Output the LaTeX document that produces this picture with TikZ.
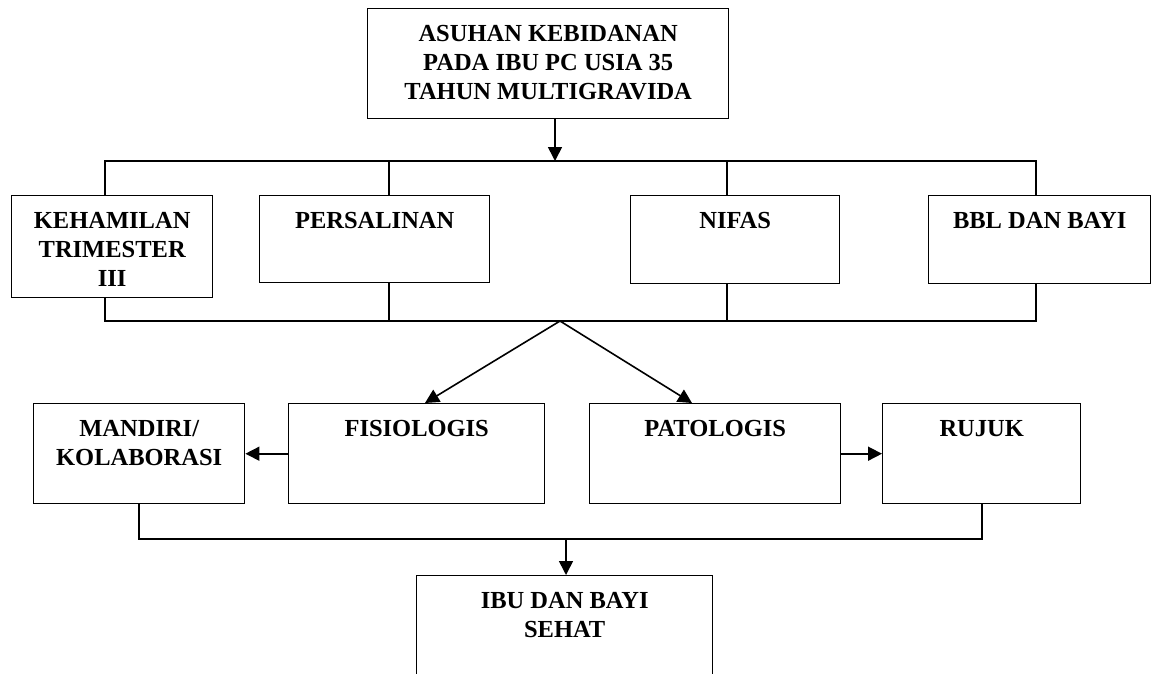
\documentclass[tikz,border=0pt]{standalone}
\usepackage{fontspec}
\setmainfont{Liberation Serif}
\usetikzlibrary{arrows.meta}
\begin{document}
\begin{tikzpicture}[x=1pt,y=-1pt,
  box/.style={draw, line width=1.4pt, anchor=north west, inner sep=0pt},
  lbl/.style={anchor=north, inner sep=0pt, align=center, yshift=-17.5pt,
    font=\fontsize{24.5}{29}\selectfont\bfseries},
  conn/.style={line width=1.6pt},
  arr/.style={conn, -{Triangle[length=14pt,width=14pt]}}]
\path[use as bounding box] (0,0) rectangle (1155,673);
\clip (0,0) rectangle (1155,673);
% boxes
\node[box, minimum width=361pt, minimum height=110pt] (top) at (367,8) {};
\node[box, minimum width=201pt, minimum height=102pt] (keh) at (11,195) {};
\node[box, minimum width=230pt, minimum height=87pt] (per) at (259,195) {};
\node[box, minimum width=209pt, minimum height=88pt] (nif) at (630,195) {};
\node[box, minimum width=222pt, minimum height=88pt] (bbl) at (928,195) {};
\node[box, minimum width=211pt, minimum height=100pt] (man) at (33,403) {};
\node[box, minimum width=256pt, minimum height=100pt] (fis) at (288,403) {};
\node[box, minimum width=251pt, minimum height=100pt] (pat) at (589,403) {};
\node[box, minimum width=198pt, minimum height=100pt] (ruj) at (882,403) {};
\node[box, minimum width=296pt, minimum height=130pt] (ibu) at (416,575) {};
% labels
\node[lbl] (ttop) at (top.north) {ASUHAN KEBIDANAN\\PADA IBU PC USIA 35\\TAHUN MULTIGRAVIDA};
\node[lbl] (tkeh) at (keh.north) {KEHAMILAN\\TRIMESTER\\III};
\node[lbl] (tper) at (per.north) {PERSALINAN};
\node[lbl] (tnif) at (nif.north) {NIFAS};
\node[lbl] (tbbl) at (bbl.north) {BBL DAN BAYI};
\node[lbl] (tman) at (man.north) {MANDIRI/\\KOLABORASI};
\node[lbl] (tfis) at (fis.north) {FISIOLOGIS};
\node[lbl] (tpat) at (pat.north) {PATOLOGIS};
\node[lbl] (truj) at (ruj.north) {RUJUK};
\node[lbl] (tibu) at (ibu.north) {IBU DAN BAYI\\SEHAT};
% coordinates
\coordinate (tb) at (555,161);
\coordinate (x1) at (105,0);
\coordinate (x2) at (389,0);
\coordinate (x3) at (727,0);
\coordinate (x4) at (1036,0);
\coordinate (bb) at (560,321);
\coordinate (yb) at (0,321);
\coordinate (yt) at (0,161);
\coordinate (fistip) at (425,403);
\coordinate (pattip) at (692,403);
\coordinate (ml) at (139,539);
\coordinate (mr) at (982,539);
\coordinate (mm) at (566,539);
% connectors
\draw[arr] (top.south -| tb) -- (tb);
\draw[conn] (keh.north -| x1) -- (x1 |- yt) -- (x4 |- yt) -- (bbl.north -| x4);
\draw[conn] (x2 |- yt) -- (per.north -| x2);
\draw[conn] (x3 |- yt) -- (nif.north -| x3);
\draw[conn] (keh.south -| x1) -- (x1 |- yb) -- (x4 |- yb) -- (bbl.south -| x4);
\draw[conn] (per.south -| x2) -- (x2 |- yb);
\draw[conn] (nif.south -| x3) -- (x3 |- yb);
\draw[arr] (bb) -- (fistip);
\draw[arr] (bb) -- (pattip);
\draw[arr] (fis.west) -- (man.east);
\draw[arr] (pat.east) -- (ruj.west);
\draw[conn] (man.south -| ml) -- (ml) -- (mr) -- (ruj.south -| mr);
\draw[arr] (mm) -- (ibu.north -| mm);
\end{tikzpicture}
\end{document}
